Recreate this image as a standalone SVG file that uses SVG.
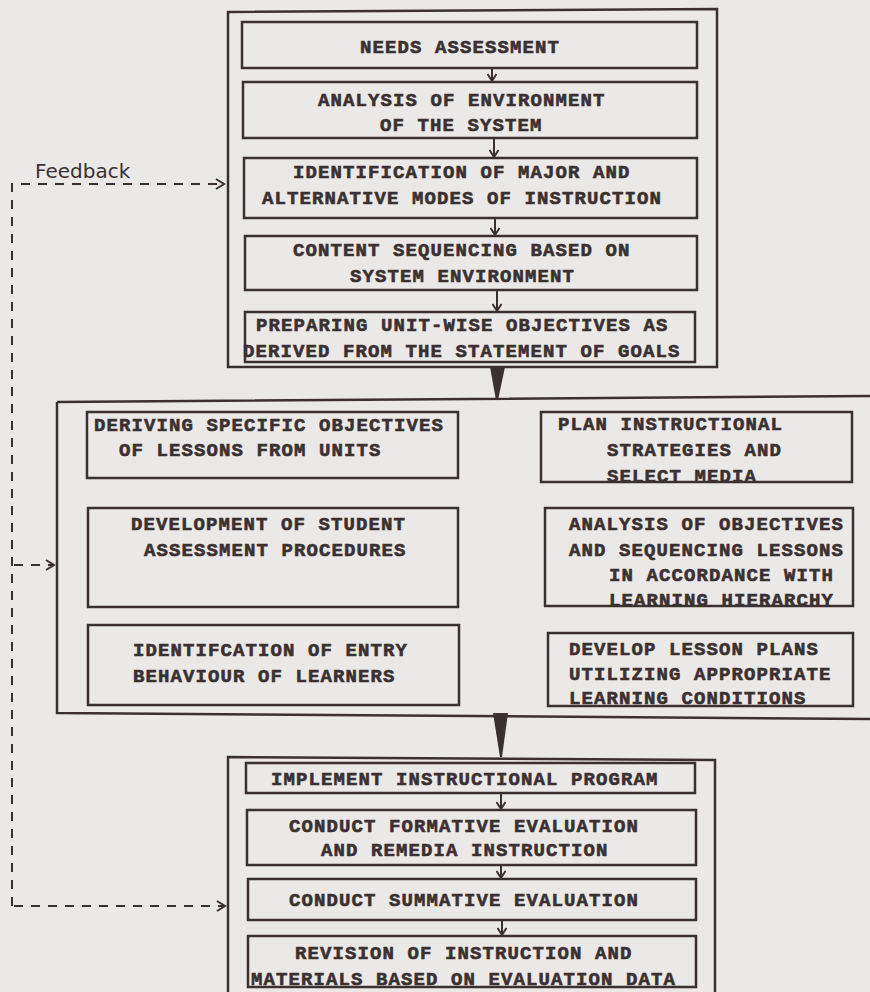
<svg xmlns="http://www.w3.org/2000/svg" width="870" height="992" viewBox="0 0 870 992">
<style>
.bg{fill:#ebe8e8}
.frame{fill:none;stroke:#3a3030;stroke-width:2.5}
.box{fill:none;stroke:#3a3030;stroke-width:2.5}
.t{font-family:"Liberation Mono","Courier New",monospace;font-weight:bold;font-size:19px;letter-spacing:1.1px;fill:#3a3030;stroke:#3a3030;stroke-width:0.6}
.conn{fill:none;stroke:#3a3030;stroke-width:2}
.dash{fill:none;stroke:#3a3030;stroke-width:2;stroke-dasharray:9 8}
.wedge{fill:#3a3030}
.fb{font-family:"DejaVu Sans",sans-serif;font-size:20px;fill:#3a3030}
</style>
<defs>
<marker id="ah" markerWidth="10" markerHeight="10" refX="8" refY="5" orient="auto" markerUnits="userSpaceOnUse" viewBox="0 0 10 10">
<path d="M1,0.5 L8,5 L1,9.5" fill="none" stroke="#3a3030" stroke-width="2"/>
</marker>
<marker id="oh" markerWidth="12" markerHeight="12" refX="10" refY="6" orient="auto" markerUnits="userSpaceOnUse" viewBox="0 0 12 12">
<path d="M2,1 L10,6 L2,11" fill="none" stroke="#3a3030" stroke-width="2"/>
</marker>
</defs>
<rect class="bg" x="0" y="0" width="870" height="992"/>

<g id="phase1">
<path class="frame" d="M228,12 L717,9 L717,367 L228,367 Z"/>
</g>
<g id="needs">
<rect class="box" x="242" y="22" width="455" height="46"/>
<text class="t" x="360" y="53">NEEDS ASSESSMENT</text>
</g>
<g id="analysis-env">
<rect class="box" x="243" y="82" width="454" height="56"/>
<text class="t" x="318" y="106">ANALYSIS OF ENVIRONMENT</text>
<text class="t" x="380" y="131">OF THE SYSTEM</text>
</g>
<g id="modes">
<rect class="box" x="244" y="158" width="453" height="60"/>
<text class="t" x="293" y="178">IDENTIFICATION OF MAJOR AND</text>
<text class="t" x="262" y="204">ALTERNATIVE MODES OF INSTRUCTION</text>
</g>
<g id="content">
<rect class="box" x="245" y="236" width="452" height="54"/>
<text class="t" x="293" y="256">CONTENT SEQUENCING BASED ON</text>
<text class="t" x="350" y="282">SYSTEM ENVIRONMENT</text>
</g>
<g id="unit-objectives">
<rect class="box" x="245" y="312" width="450" height="50"/>
<text class="t" x="256" y="331">PREPARING UNIT-WISE OBJECTIVES AS</text>
<text class="t" x="243" y="357">DERIVED FROM THE STATEMENT OF GOALS</text>
</g>

<g id="phase2">
<path class="frame" d="M57,402 L870,396 M57,402 L57,713 L870,719"/>
</g>
<g id="deriving">
<rect class="box" x="87" y="412" width="371" height="66"/>
<text class="t" x="94" y="431">DERIVING SPECIFIC OBJECTIVES</text>
<text class="t" x="119" y="456">OF LESSONS FROM UNITS</text>
</g>
<g id="assessment">
<rect class="box" x="88" y="508" width="370" height="99"/>
<text class="t" x="131" y="530">DEVELOPMENT OF STUDENT</text>
<text class="t" x="144" y="556">ASSESSMENT PROCEDURES</text>
</g>
<g id="entry">
<rect class="box" x="88" y="625" width="371" height="80"/>
<text class="t" x="133" y="656">IDENTIFCATION OF ENTRY</text>
<text class="t" x="133" y="682">BEHAVIOUR OF LEARNERS</text>
</g>
<g id="strategies">
<rect class="box" x="541" y="412" width="311" height="70"/>
<text class="t" x="558" y="430">PLAN INSTRUCTIONAL</text>
<text class="t" x="607" y="456">STRATEGIES AND</text>
<text class="t" x="607" y="482">SELECT MEDIA</text>
</g>
<g id="sequencing">
<rect class="box" x="545" y="508" width="308" height="98"/>
<text class="t" x="569" y="530">ANALYSIS OF OBJECTIVES</text>
<text class="t" x="569" y="556">AND SEQUENCING LESSONS</text>
<text class="t" x="609" y="581">IN ACCORDANCE WITH</text>
<text class="t" x="609" y="606">LEARNING HIERARCHY</text>
</g>
<g id="lesson-plans">
<rect class="box" x="548" y="633" width="305" height="73"/>
<text class="t" x="569" y="655">DEVELOP LESSON PLANS</text>
<text class="t" x="569" y="680">UTILIZING APPROPRIATE</text>
<text class="t" x="569" y="704">LEARNING CONDITIONS</text>
</g>

<g id="phase3">
<path class="frame" d="M228,992 L228,757 L715,760 L715,992"/>
</g>
<g id="implement">
<rect class="box" x="246" y="763" width="449" height="30"/>
<text class="t" x="271" y="785">IMPLEMENT INSTRUCTIONAL PROGRAM</text>
</g>
<g id="formative">
<rect class="box" x="247" y="810" width="449" height="55"/>
<text class="t" x="289" y="832">CONDUCT FORMATIVE EVALUATION</text>
<text class="t" x="321" y="856">AND REMEDIA INSTRUCTION</text>
</g>
<g id="summative">
<rect class="box" x="248" y="879" width="448" height="41"/>
<text class="t" x="289" y="906">CONDUCT SUMMATIVE EVALUATION</text>
</g>
<g id="revision">
<rect class="box" x="248" y="936" width="448" height="51"/>
<text class="t" x="295" y="959">REVISION OF INSTRUCTION AND</text>
<text class="t" x="251" y="985">MATERIALS BASED ON EVALUATION DATA</text>
</g>

<g id="connectors">
<line class="conn" x1="492" y1="68" x2="492" y2="81" marker-end="url(#ah)"/>
<line class="conn" x1="494" y1="138" x2="494" y2="157" marker-end="url(#ah)"/>
<line class="conn" x1="495" y1="218" x2="495" y2="235" marker-end="url(#ah)"/>
<line class="conn" x1="497" y1="290" x2="497" y2="311" marker-end="url(#ah)"/>
<path class="wedge" d="M490,367 L505,367 L498,400 L496,400 Z"/>
<path class="wedge" d="M493,713 L508,713 L502,757 L500,757 Z"/>
<line class="conn" x1="501" y1="793" x2="501" y2="809" marker-end="url(#ah)"/>
<line class="conn" x1="501" y1="865" x2="501" y2="878" marker-end="url(#ah)"/>
<line class="conn" x1="502" y1="920" x2="502" y2="935" marker-end="url(#ah)"/>
<path class="dash" d="M12,906 L12,184 L224,184" marker-end="url(#oh)"/>
<line class="dash" x1="14" y1="565" x2="54" y2="565" stroke-dasharray="7 5" marker-end="url(#oh)"/>
<line class="dash" x1="14" y1="906" x2="225" y2="906" marker-end="url(#oh)"/>
<text class="fb" x="35" y="178">Feedback</text>
</g>
</svg>
